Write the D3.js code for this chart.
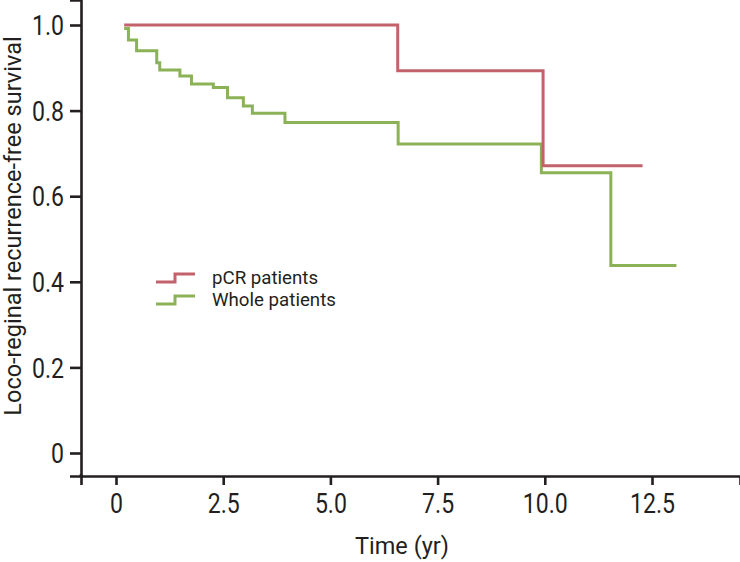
<!DOCTYPE html>
<html><head><meta charset="utf-8">
<script src="https://cdn.jsdelivr.net/npm/d3@7"></script>
<style>
html,body{margin:0;padding:0;background:#fff;}
text{font-family:Roboto,"DejaVu Sans Condensed",sans-serif;fill:#231f20;}
</style></head>
<body><svg id="c" width="740" height="562"></svg>
<script>
// Data
const seriesNames = ["pCR patients", "Whole patients"];
const pcrTimes  = [0.19, 6.57, 9.96, 12.28];
const pcrValues = [1.0, 0.893, 0.671, 0.671];
const wholeTimes  = [0.19, 0.29, 0.48, 0.95, 1.02, 1.49, 1.76, 2.27, 2.60, 2.97, 3.18, 3.94, 6.58, 9.92, 11.54, 13.07];
const wholeValues = [0.992, 0.965, 0.940, 0.912, 0.895, 0.881, 0.862, 0.854, 0.830, 0.811, 0.794, 0.772, 0.722, 0.655, 0.438, 0.438];
const xTicks = [0, 2.5, 5, 7.5, 10, 12.5];
const xTickLabels = ["0", "2.5", "5.0", "7.5", "10.0", "12.5"];
const yTicks = [0, 0.2, 0.4, 0.6, 0.8, 1.0];
const yTickLabels = ["0", "0.2", "0.4", "0.6", "0.8", "1.0"];

const colors = ["#c2636b", "#8cb257"];
const ink = "#231f20";
const font = 'Roboto,"DejaVu Sans Condensed",sans-serif';
const squeeze = 0.84;

const svg = d3.select("#c");
const pLeft = 81, pRight = 740, pTop = 0, pBottom = 476;

const x0 = d3.scaleLinear().domain([0, 12.5]).range([116, 652]);
const x = d3.scaleLinear().domain([x0.invert(pLeft), x0.invert(pRight)]).range([pLeft, pRight]);
const y0 = d3.scaleLinear().domain([0, 1]).range([453, 25]);
const y = d3.scaleLinear().domain([y0.invert(pBottom), y0.invert(pTop)]).range([pBottom, pTop]);

// axes
const xAxis = d3.axisBottom(x).tickValues(xTicks).tickFormat((d,i)=>xTickLabels[i]).tickSizeOuter(0).tickSize(9);
const gx = svg.append("g").attr("transform", `translate(0,${pBottom})`).call(xAxis);
const yAxis = d3.axisLeft(y).tickValues(yTicks).tickFormat((d,i)=>yTickLabels[i]).tickSizeOuter(0).tickSize(11);
const gy = svg.append("g").attr("transform", `translate(${pLeft},0)`).call(yAxis);
[gx, gy].forEach(g => {
  g.select(".domain").attr("stroke", ink).attr("stroke-width", 2.6);
  g.selectAll(".tick line").attr("stroke", ink).attr("stroke-width", 2.6);
  g.selectAll(".tick text").attr("font-size", 27.5).attr("fill", ink).style("font-family", font)
    .attr("transform", `scale(${squeeze},1)`);
});
gx.selectAll(".tick text").attr("x", 0).attr("y", 37).attr("dy", null);
gy.selectAll(".tick text").attr("x", -17 / squeeze).attr("dy", "0.355em");
svg.append("line").attr("x1", pLeft).attr("x2", pLeft).attr("y1", pBottom - 2).attr("y2", pBottom + 1.3)
  .attr("stroke", ink).attr("stroke-width", 2.6);

// lines
const line = d3.line().x(d => x(d[0])).y(d => y(d[1])).curve(d3.curveStepAfter);
const series = [
  pcrTimes.map((t, i) => [t, pcrValues[i]]),
  wholeTimes.map((t, i) => [t, wholeValues[i]])
];
[1, 0].forEach(k => {
  svg.append("path").datum(series[k]).attr("d", line)
    .attr("fill", "none").attr("stroke", colors[k]).attr("stroke-width", 3)
    .attr("stroke-linejoin", "miter").attr("stroke-linecap", "butt");
});

// legend
const legY = [282, 304];
seriesNames.forEach((name, i) => {
  const yy = legY[i];
  svg.append("path")
    .attr("d", `M156,${yy} H175 V${yy - 8} H195`)
    .attr("fill", "none").attr("stroke", colors[i]).attr("stroke-width", 3);
  svg.append("text").attr("x", 212).attr("y", yy + 2).attr("font-size", 18.7).text(name);
});

// axis titles
svg.append("text").attr("x", 402).attr("y", 554).attr("text-anchor", "middle").attr("font-size", 23.5).text("Time (yr)");
svg.append("text").attr("transform", "translate(21,226) rotate(-90)").attr("text-anchor", "middle")
  .attr("font-size", 23.5).text("Loco-reginal recurrence-free survival");
</script></body></html>
